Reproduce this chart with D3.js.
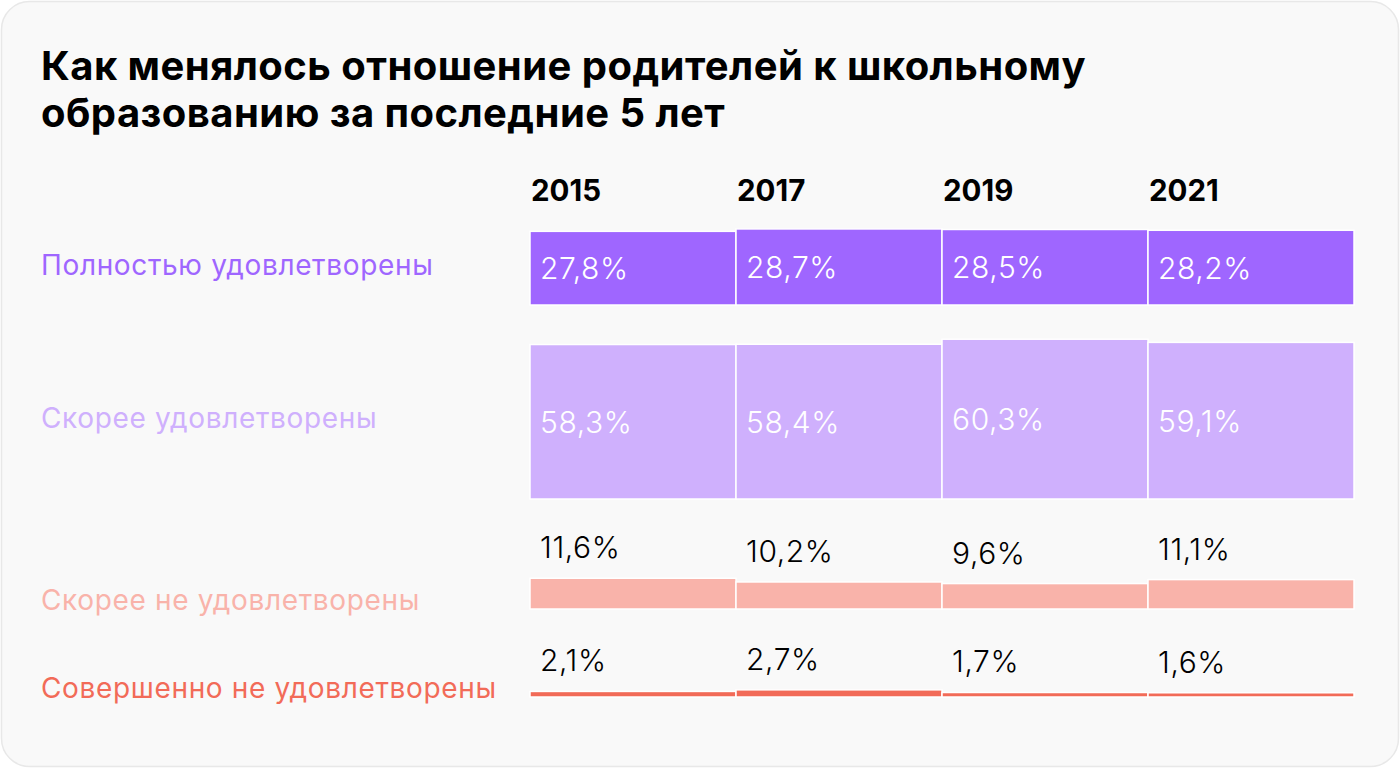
<!DOCTYPE html>
<html><head><meta charset="utf-8">
<script src="https://cdn.jsdelivr.net/npm/d3@7"></script>
<style>
html,body{margin:0;padding:0;background:#fff;}
svg{display:block;font-family:Inter, Roboto, "Noto Sans", sans-serif;}
</style></head>
<body>
<svg id="chart" width="1400" height="768"></svg>
<script>
const titleLines = ["Как менялось отношение родителей к школьному", "образованию за последние 5 лет"];
const years = ["2015", "2017", "2019", "2021"];
const categories = ["Полностью удовлетворены", "Скорее удовлетворены", "Скорее не удовлетворены", "Совершенно не удовлетворены"];
const fullySatisfied = [27.8, 28.7, 28.5, 28.2];
const ratherSatisfied = [58.3, 58.4, 60.3, 59.1];
const ratherNotSatisfied = [11.6, 10.2, 9.6, 11.1];
const notSatisfied = [2.1, 2.7, 1.7, 1.6];
const seriesValues = [fullySatisfied, ratherSatisfied, ratherNotSatisfied, notSatisfied];
const colors = ["#9f66ff", "#cfb0fd", "#f9b3aa", "#f26b58"];

const svg = d3.select("#chart");
svg.append("rect").attr("x", 1.5).attr("y", 1.5).attr("width", 1397).attr("height", 765)
  .attr("rx", 28).attr("fill", "#f9f9f9").attr("stroke", "#e8e8e8").attr("stroke-width", 1.5);

svg.append("g").selectAll("text").data(titleLines).join("text")
  .attr("x", 41).attr("y", (d, i) => 80 + i * 47)
  .attr("font-size", 40).attr("font-weight", 700).attr("fill", "#000")
  .attr("letter-spacing", 0.45)
  .text(d => d);

const x = d3.scaleBand().domain(years).range([530, 1354]).padding(0);
const y = d3.scaleLinear().domain([0, 100]).range([0, 265]);

const baselines = [305, 499, 609, 697];
const labelY = [275, 428, 610, 698];
const fmt = v => d3.format(".1f")(v).replace(".", ",") + "%";

svg.append("g").selectAll("text").data(years).join("text")
  .attr("x", d => x(d) + 1).attr("y", 201)
  .attr("font-size", 29.5).attr("font-weight", 700).attr("fill", "#000")
  .text(d => d);

categories.forEach((cat, r) => {
  svg.append("text").attr("x", 41).attr("y", labelY[r])
    .attr("font-size", 28).attr("font-weight", 400).attr("fill", colors[r])
    .attr("letter-spacing", 0.65).text(cat);
  const g = svg.append("g");
  const data = years.map((yr, i) => ({yr, v: seriesValues[r][i]}));
  g.selectAll("rect").data(data).join("rect")
    .attr("x", d => x(d.yr)).attr("width", x.bandwidth())
    .attr("y", d => baselines[r] - y(d.v)).attr("height", d => y(d.v))
    .attr("fill", colors[r]).attr("stroke", "#fff").attr("stroke-width", 1.5);
  g.selectAll("text").data(data).join("text")
    .attr("x", d => x(d.yr) + 10)
    .attr("y", d => r < 2 ? baselines[r] - y(d.v) / 2 + 11 : baselines[r] - y(d.v) - 20)
    .attr("font-size", 30).attr("font-weight", 300).attr("fill", r < 2 ? "#fff" : "#000")
    .attr("letter-spacing", 0.6)
    .text(d => fmt(d.v));
});
</script>
</body></html>
